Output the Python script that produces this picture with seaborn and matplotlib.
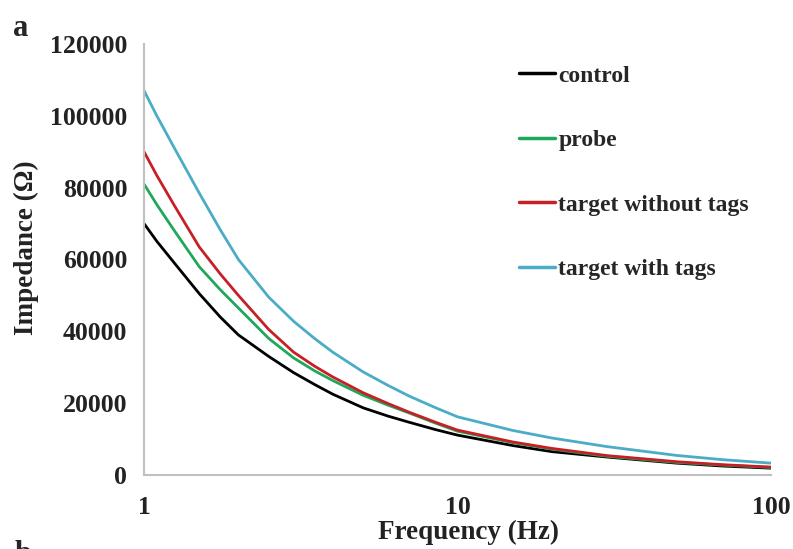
import pandas as pd
import matplotlib
matplotlib.use("Agg")
import matplotlib.pyplot as plt
import matplotlib.ticker as mticker
import seaborn as sns

# --- data ---
freq = [1, 1.1, 1.25, 1.5, 1.75, 2, 2.5, 3, 3.5, 4, 5, 6, 7, 8.5, 10, 15, 20, 30, 50, 70, 100]
control = [70000, 65000, 59000, 50500, 44000, 39000, 33000, 28500, 25200, 22500, 18700, 16400,
           14700, 12650, 11100, 8200, 6500, 5000, 3300, 2500, 1900]
probe = [81000, 75200, 68000, 58000, 51600, 46500, 38000, 32600, 29000, 26300, 22200, 19450,
         17300, 14450, 12200, 9000, 7200, 5200, 3500, 2750, 2100]
target_no_tags = [90000, 83300, 75000, 63500, 56000, 50000, 40500, 34200, 30300, 27300, 22900, 19900,
                  17500, 14700, 12500, 9200, 7400, 5400, 3700, 2870, 2200]
target_tags = [107000, 99900, 91000, 78500, 68300, 60000, 49500, 42800, 38000, 34200, 28700, 24950,
               22000, 18750, 16200, 12400, 10300, 7900, 5450, 4270, 3300]

series = ["control", "probe", "target without tags", "target with tags"]
colors = ["#000000", "#1fa85a", "#c62026", "#4bacc6"]
xticks = [1, 10, 100]
yticks = [0, 20000, 40000, 60000, 80000, 100000, 120000]

df = pd.concat([
    pd.DataFrame({"freq": freq, "imp": vals, "series": name})
    for name, vals in zip(series, [control, probe, target_no_tags, target_tags])
])

sns.set_style("white")
plt.rcParams["font.family"] = ["Liberation Serif", "DejaVu Serif"]
plt.rcParams["font.weight"] = "bold"

fig = plt.figure(figsize=(7.93, 5.49), dpi=100)
ax = fig.add_axes([0.1816, 0.1348, 0.7906, 0.7852])

sns.lineplot(data=df, x="freq", y="imp", hue="series", hue_order=series,
             palette=colors, linewidth=2.0, ax=ax)

ax.set_xscale("log")
ax.set_xlim(1, 100)
ax.set_ylim(0, 120000)
ax.set_xticks(xticks)
ax.xaxis.set_major_formatter(mticker.FuncFormatter(lambda v, p: f"{v:g}"))
ax.xaxis.set_minor_locator(mticker.NullLocator())
ax.set_yticks(yticks)
ax.yaxis.set_major_formatter(mticker.FuncFormatter(lambda v, p: f"{int(v)}"))

grey = "#c0c0c0"
for side in ["top", "right"]:
    ax.spines[side].set_visible(False)
for side in ["left", "bottom"]:
    ax.spines[side].set_color(grey)
    ax.spines[side].set_linewidth(1.5)
ax.tick_params(axis="both", which="major", direction="out", length=5, width=1.2,
               color=grey, labelsize=18.5, labelcolor="#222222")
ax.tick_params(axis="x", pad=10)
ax.tick_params(axis="y", pad=7)
for lab in ax.get_xticklabels() + ax.get_yticklabels():
    lab.set_fontweight("bold")

ax.set_xlabel("Frequency (Hz)", fontsize=19.5, fontweight="bold", color="#222222")
ax.set_ylabel("Impedance (Ω)", fontsize=19.5, fontweight="bold", color="#222222")
ax.xaxis.set_label_coords(0.517, -0.105)
ax.yaxis.set_label_coords(-0.168, 0.527)

leg = ax.legend(loc="upper left", bbox_to_anchor=(0.565, 1.0), frameon=False,
                handlelength=1.5, handletextpad=0.15, labelspacing=1.82,
                prop={"size": 17, "weight": "bold"})
for line in leg.get_lines():
    line.set_linewidth(2.5)

fig.text(0.016, 0.975, "a", fontsize=22, fontweight="bold", va="top")
fig.text(0.018, 0.016, "b", fontsize=22, fontweight="bold", va="top")

plt.savefig("out.png", dpi=100)
plt.close()
